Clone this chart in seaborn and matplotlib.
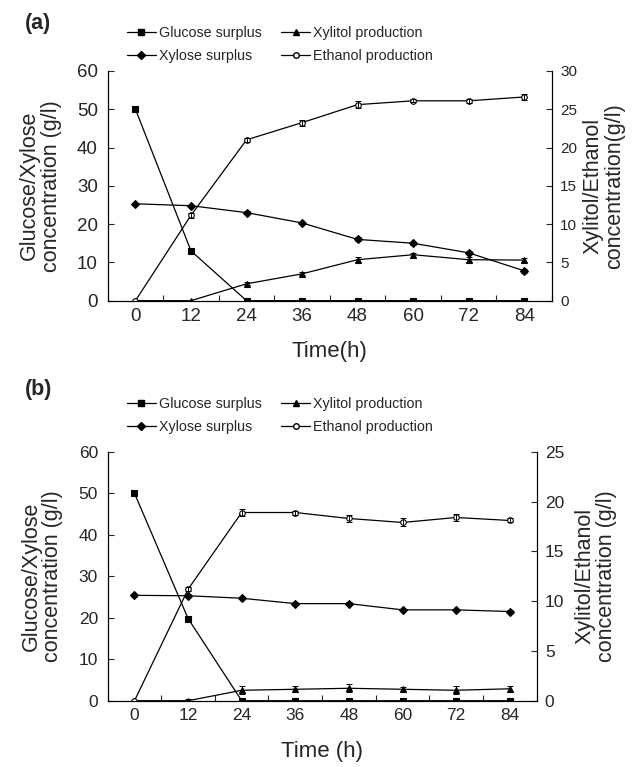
import matplotlib
matplotlib.use('Agg')
import matplotlib.pyplot as plt
import seaborn as sns
from matplotlib.lines import Line2D

time_h = [0, 12, 24, 36, 48, 60, 72, 84]
series_names = ['Glucose surplus', 'Xylose surplus', 'Xylitol production', 'Ethanol production']

# panel (a)
glucose_a = [50, 13, 0, 0, 0, 0, 0, 0]
glucose_a_err = [0.3, 0.5, 0, 0, 0, 0, 0, 0]
xylose_a = [25.3, 24.8, 23.0, 20.3, 16.0, 15.0, 12.5, 7.8]
xylose_a_err = [0.3, 0.3, 0.3, 0.3, 0.5, 0.4, 0.4, 0.5]
xylitol_a = [0, 0, 2.2, 3.5, 5.35, 6.0, 5.35, 5.3]
xylitol_a_err = [0, 0, 0.2, 0.2, 0.3, 0.25, 0.3, 0.3]
ethanol_a = [0, 11.15, 21.0, 23.25, 25.6, 26.1, 26.1, 26.6]
ethanol_a_err = [0, 0.3, 0.3, 0.4, 0.5, 0.2, 0.3, 0.4]

# panel (b)
glucose_b = [50, 19.8, 0, 0, 0, 0, 0, 0]
glucose_b_err = [0.2, 0.5, 0, 0, 0, 0, 0, 0]
xylose_b = [25.4, 25.3, 24.7, 23.4, 23.4, 21.9, 21.9, 21.5]
xylose_b_err = [0.3, 0.4, 0.3, 0.3, 0.3, 0.3, 0.3, 0.3]
xylitol_b = [0, 0, 1.05, 1.15, 1.25, 1.15, 1.05, 1.2]
xylitol_b_err = [0, 0.2, 0.4, 0.3, 0.4, 0.2, 0.4, 0.3]
ethanol_b = [0, 11.2, 18.9, 18.9, 18.3, 17.9, 18.4, 18.1]
ethanol_b_err = [0, 0.2, 0.4, 0.2, 0.4, 0.4, 0.4, 0.2]

sns.set_style('ticks')
plt.rcParams['font.family'] = ['Liberation Sans', 'DejaVu Sans']

styles = [
    dict(marker='s', markersize=4, markerfacecolor='black'),
    dict(marker='D', markersize=3.6, markerfacecolor='black'),
    dict(marker='^', markersize=4.8, markerfacecolor='black'),
    dict(marker='o', markersize=4, markerfacecolor='white'),
]


def draw_panel(ax, left_data, right_data, right_max, xlabel, right_label, tick_size,
               rtick_size, xpad, rpad):
    ax2 = ax.twinx()
    for (vals, errs), st in zip(left_data, styles[:2]):
        sns.lineplot(x=time_h, y=vals, ax=ax, color='black', linewidth=0.9,
                     markeredgecolor='black', markeredgewidth=0.8, **st)
        ax.errorbar(time_h, vals, yerr=errs, fmt='none', ecolor='black',
                    elinewidth=0.7, capsize=2.5, capthick=0.7)
    for (vals, errs), st in zip(right_data, styles[2:]):
        sns.lineplot(x=time_h, y=vals, ax=ax2, color='black', linewidth=0.9,
                     markeredgecolor='black', markeredgewidth=0.8, **st)
        ax2.errorbar(time_h, vals, yerr=errs, fmt='none', ecolor='black',
                     elinewidth=0.7, capsize=2.5, capthick=0.7)

    ax.set_xlim(-6, 90)
    ax.set_ylim(0, 60)
    ax2.set_ylim(0, right_max)
    ax.set_yticks(range(0, 61, 10))
    ax2.set_yticks(range(0, right_max + 1, 5))
    ax.set_xticks(time_h)
    ax.set_xticks(range(-6, 91, 12), minor=True)
    ax.tick_params(axis='x', which='major', length=0, labelsize=tick_size, pad=5)
    ax.tick_params(axis='x', which='minor', length=4, direction='in', width=0.8)
    ax.tick_params(axis='y', length=4, direction='in', width=0.8, labelsize=tick_size, pad=7)
    ax2.tick_params(axis='y', length=4, direction='in', width=0.8, labelsize=rtick_size, pad=6)

    for a in (ax, ax2):
        a.spines['top'].set_visible(False)
        for s in ('left', 'right', 'bottom'):
            a.spines[s].set_linewidth(0.8)
            a.spines[s].set_color('black')

    ax.set_xlabel(xlabel, fontsize=16, labelpad=xpad)
    ax.set_ylabel('Glucose/Xylose\nconcentration (g/l)', fontsize=15.5, labelpad=11,
                  linespacing=1.05)
    ax2.set_ylabel(right_label, fontsize=15.5, labelpad=rpad, linespacing=1.05,
                   rotation=90)


fig = plt.figure(figsize=(6.41, 7.67), dpi=100)
ax_a = fig.add_axes([0.168, 0.608, 0.693, 0.2995])
ax_b = fig.add_axes([0.168, 0.0864, 0.669, 0.3246])

draw_panel(ax_a,
           [(glucose_a, glucose_a_err), (xylose_a, xylose_a_err)],
           [(xylitol_a, xylitol_a_err), (ethanol_a, ethanol_a_err)],
           30, 'Time(h)', 'Xylitol/Ethanol\nconcentration(g/l)', 13.5, 11, 12, 4)
draw_panel(ax_b,
           [(glucose_b, glucose_b_err), (xylose_b, xylose_b_err)],
           [(xylitol_b, xylitol_b_err), (ethanol_b, ethanol_b_err)],
           25, 'Time (h)', 'Xylitol/Ethanol\nconcentration (g/l)', 12.5, 12.5, 13, 7)

handles = [Line2D([], [], color='black', linewidth=0.9, markeredgecolor='black', **st)
           for st in styles]
for y_top in (1 - 26 / 767, 1 - 397 / 767):
    fig.legend(handles, series_names, ncol=2, loc='upper left',
               bbox_to_anchor=(127 / 641, y_top), frameon=False, fontsize=10.3,
               handlelength=2.0, handletextpad=0.25, columnspacing=1.35,
               labelspacing=0.65, borderpad=0, borderaxespad=0)

fig.text(25 / 641, 1 - 23 / 767, '(a)', fontsize=15.5, fontweight='bold', va='center')
fig.text(25 / 641, 1 - 389 / 767, '(b)', fontsize=15.5, fontweight='bold', va='center')

fig.savefig('out.png', dpi=100)
